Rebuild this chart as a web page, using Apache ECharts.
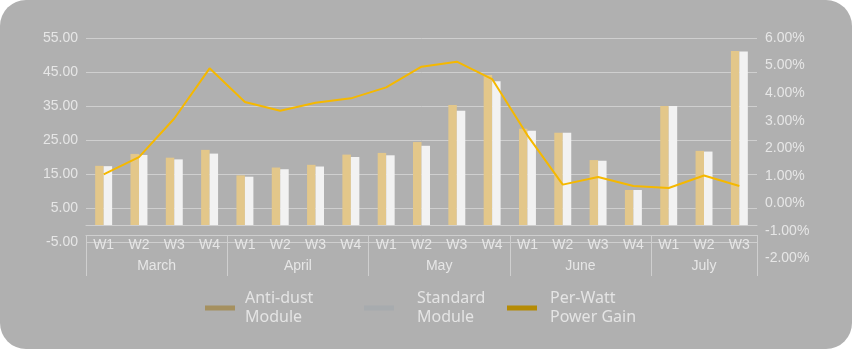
<!DOCTYPE html>
<html>
<head>
<meta charset="utf-8">
<script src="https://cdn.jsdelivr.net/npm/echarts@6/dist/echarts.min.js"></script>
<style>
  html, body { margin: 0; padding: 0; background: #ffffff; }
  #chart { width: 852px; height: 349px; background: #b0b0b0; border-radius: 26px; overflow: hidden; }
</style>
</head>
<body>
<div id="chart"></div>
<script>
// ---- data ----
const monthNames = ['March', 'April', 'May', 'June', 'July'];
const weeksPerMonth = [4, 4, 4, 4, 3];
const weekLabels = ['W1', 'W2', 'W3', 'W4'];
const antiDust = [17.4, 20.9, 19.8, 22.1, 14.6, 16.9, 17.7, 20.7, 21.2, 24.4, 35.3, 44.1, 28.3, 27.1, 19.1, 10.3, 35.0, 21.8, 51.2];
const standard = [17.3, 20.6, 19.3, 21.0, 14.2, 16.4, 17.2, 20.0, 20.5, 23.3, 33.6, 42.3, 27.7, 27.1, 18.9, 10.3, 35.0, 21.6, 51.0];
const gain = [1.05, 1.68, 3.08, 4.90, 3.68, 3.36, 3.65, 3.81, 4.21, 4.96, 5.14, 4.51, 2.47, 0.68, 0.96, 0.63, 0.56, 1.01, 0.63];
const leftTicks = { min: -5, max: 55, interval: 10 };
const rightTicks = { min: -2, max: 6, interval: 1 };
const seriesNames = ['Anti-dust\nModule', 'Standard\nModule', 'Per-Watt\nPower Gain'];

// ---- derived categories ----
const weeks = [];
monthNames.forEach((m, i) => { for (let w = 0; w < weeksPerMonth[i]; w++) weeks.push(weekLabels[w]); });
const nWeeks = weeks.length;
const halfSlots = new Array(2 * nWeeks + 1).fill('');
const boundaries = new Set();
let start = 0;
monthNames.forEach((m, i) => {
  boundaries.add(2 * start);
  halfSlots[2 * start + weeksPerMonth[i]] = m;
  start += weeksPerMonth[i];
});
boundaries.add(2 * start);

const labelColor = '#e6e6e6';
const lineColor = '#cfcfcf';
const axisFont = 'Liberation Sans, Arial, sans-serif';

const chart = echarts.init(document.getElementById('chart'), null, { renderer: 'canvas' });
function legendFor(left, name, color, gapPad) {
  return {
    orient: 'horizontal', top: 289, left: left, padding: 0, itemWidth: 30, itemHeight: 5, icon: 'rect',
    selectedMode: false,
    textStyle: { fontFamily: 'Noto Sans', fontSize: 16, lineHeight: 19, color: '#e4e4e4', padding: [0, 0, 0, gapPad] },
    data: [{ name: name, icon: 'rect', itemStyle: { color: color }, lineStyle: { color: color, width: 0 } }]
  };
}
chart.setOption({
  backgroundColor: 'transparent',
  animation: false,
  grid: [
    { left: 86, right: 95, top: 38, height: 204 },
    { left: 86, right: 95, top: 38, height: 220.5 }
  ],
  legend: [
    legendFor(205, seriesNames[0], '#a5905f', 5),
    legendFor(364, seriesNames[1], '#a7abae', 18),
    legendFor(507, seriesNames[2], '#b58b05', 8)
  ],
  xAxis: [
    {
      type: 'category', gridIndex: 0, data: weeks, boundaryGap: true,
      axisLine: { show: true, lineStyle: { color: lineColor, width: 1 } },
      axisTick: { show: false },
      axisLabel: { interval: 0, margin: 3, verticalAlign: 'middle', color: labelColor, fontSize: 14, fontFamily: axisFont }
    },
    {
      type: 'category', gridIndex: 0, data: halfSlots, boundaryGap: false, position: 'bottom', offset: -7,
      axisLine: { show: true, lineStyle: { color: lineColor, width: 1 } },
      axisTick: { show: true, length: 41, interval: (idx) => boundaries.has(idx), lineStyle: { color: lineColor, width: 1 } },
      axisLabel: { interval: 0, margin: 24, color: labelColor, fontSize: 14, fontFamily: axisFont },
      splitLine: { show: false }
    },
    {
      type: 'category', gridIndex: 1, data: weeks, boundaryGap: true, show: false
    }
  ],
  yAxis: [
    {
      type: 'value', gridIndex: 0, min: leftTicks.min, max: leftTicks.max, interval: leftTicks.interval,
      axisLine: { show: false }, axisTick: { show: false },
      axisLabel: { margin: 8, color: labelColor, fontSize: 14, fontFamily: axisFont, formatter: (v) => v.toFixed(2) },
      splitLine: { show: true, lineStyle: { color: lineColor, width: 1 } }
    },
    {
      type: 'value', gridIndex: 1, position: 'right', min: rightTicks.min, max: rightTicks.max, interval: rightTicks.interval,
      axisLine: { show: false }, axisTick: { show: false },
      axisLabel: { margin: 8, color: labelColor, fontSize: 14, fontFamily: axisFont, formatter: (v) => v.toFixed(2) + '%' },
      splitLine: { show: false }
    }
  ],
  series: [
    {
      name: seriesNames[0], type: 'bar', xAxisIndex: 0, yAxisIndex: 0, data: antiDust,
      barGap: '0%', barCategoryGap: '52%',
      itemStyle: { color: '#e3c78a' }
    },
    {
      name: seriesNames[1], type: 'bar', xAxisIndex: 0, yAxisIndex: 0, data: standard,
      barGap: '0%', barCategoryGap: '52%',
      itemStyle: { color: '#f2f2f2' }
    },
    {
      name: seriesNames[2], type: 'line', xAxisIndex: 2, yAxisIndex: 1, data: gain,
      symbol: 'none', smooth: false,
      lineStyle: { color: '#f5b800', width: 2 }, itemStyle: { color: '#f5b800' }
    }
  ]
});
</script>
</body>
</html>
